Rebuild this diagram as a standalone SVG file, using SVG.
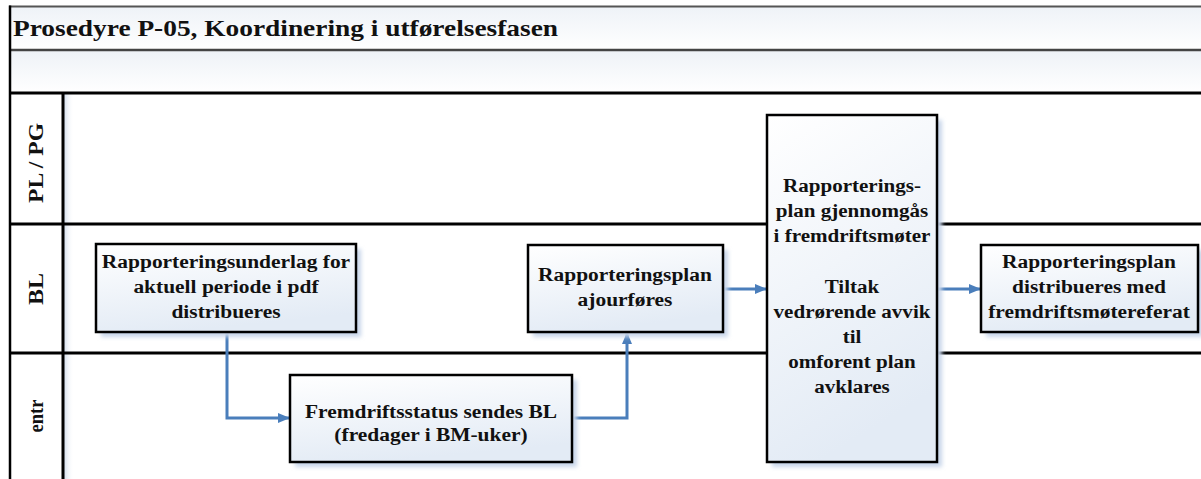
<svg xmlns="http://www.w3.org/2000/svg" width="1201" height="479" viewBox="0 0 1201 479">
  <style>
    .title { font-family: "Liberation Serif", "Times New Roman", serif; font-weight: bold; font-size: 24px; fill: #111; }
    .lane { font-family: "Liberation Serif", "Times New Roman", serif; font-weight: bold; font-size: 21px; fill: #111; text-anchor: middle; }
    .lbl { font-family: "Liberation Serif", "Times New Roman", serif; font-weight: bold; font-size: 19.5px; fill: #111; text-anchor: middle; }
    .box { fill: url(#boxFill); stroke: #000; stroke-width: 2.5; }
    .shadow { fill: #c8d6ea; filter: url(#soft); }
    .sep { stroke: #000; stroke-width: 3; fill: none; }
    .flow { stroke: #4a7ebb; stroke-width: 3; fill: none; marker-end: url(#arrow); }
  </style>
  <defs>
    <linearGradient id="boxFill" x1="0" y1="0" x2="0.3" y2="1">
      <stop offset="0" stop-color="#ffffff"/>
      <stop offset="1" stop-color="#e3ebf5"/>
    </linearGradient>
    <linearGradient id="band" x1="0" y1="0" x2="0" y2="1">
      <stop offset="0" stop-color="#eef2f7"/>
      <stop offset="1" stop-color="#ffffff"/>
    </linearGradient>
    <linearGradient id="laneEdge" x1="0" y1="0" x2="1" y2="0">
      <stop offset="0" stop-color="#d3deed"/>
      <stop offset="1" stop-color="#ffffff" stop-opacity="0"/>
    </linearGradient>
    <filter id="soft" x="-10%" y="-10%" width="120%" height="120%">
      <feGaussianBlur stdDeviation="2"/>
    </filter>
    <marker id="arrow" markerWidth="12" markerHeight="10" refX="11" refY="5" orient="auto" markerUnits="userSpaceOnUse">
      <path d="M0,0 L12,5 L0,10 Z" fill="#4a7ebb"/>
    </marker>
  </defs>

  <rect width="1201" height="479" fill="#ffffff"/>

  <!-- pool frame and header bands -->
  <g id="pool">
    <rect x="10" y="6" width="1195" height="44" fill="url(#band)"/>
    <rect x="10" y="50" width="1195" height="43" fill="url(#band)"/>
    <rect x="64" y="93" width="10" height="390" fill="url(#laneEdge)"/>
    <line x1="9" y1="6.5" x2="1205" y2="6.5" stroke="#555" stroke-width="2"/>
    <line x1="9" y1="50" x2="1205" y2="50" stroke="#444" stroke-width="2.5"/>
    <line x1="9" y1="93" x2="1205" y2="93" class="sep"/>
    <line x1="9" y1="224" x2="1205" y2="224" class="sep"/>
    <line x1="9" y1="353" x2="1205" y2="353" class="sep"/>
    <line x1="10" y1="5.5" x2="10" y2="485" stroke="#000" stroke-width="2.5"/>
    <line x1="63" y1="93" x2="63" y2="485" class="sep"/>
    <text class="title" x="13" y="36" textLength="545" lengthAdjust="spacingAndGlyphs">Prosedyre P-05, Koordinering i utførelsesfasen</text>
  </g>

  <!-- lane headers -->
  <g id="lane-plpg"><text class="lane" transform="translate(43,163) rotate(-90)" textLength="80" lengthAdjust="spacingAndGlyphs">PL / PG</text></g>
  <g id="lane-bl"><text class="lane" transform="translate(43,289) rotate(-90)" textLength="32" lengthAdjust="spacingAndGlyphs">BL</text></g>
  <g id="lane-entr"><text class="lane" transform="translate(43,416) rotate(-90)" textLength="33" lengthAdjust="spacingAndGlyphs">entr</text></g>

  <!-- connectors -->
  <g id="connectors">
    <path class="flow" d="M227,332 V418 H289"/>
    <path class="flow" d="M572,418 H627 V333"/>
    <path class="flow" d="M723,289 H766"/>
    <path class="flow" d="M937,289 H980"/>
  </g>

  <!-- process steps -->
  <g id="n1">
    <rect class="shadow" x="101" y="249" width="260" height="88"/>
    <rect class="box" x="96" y="244" width="260" height="88"/>
    <g transform="translate(226,0) scale(1.1,1)">
      <text class="lbl" x="0" y="268">Rapporteringsunderlag for</text>
      <text class="lbl" x="0" y="293">aktuell periode i pdf</text>
      <text class="lbl" x="0" y="318">distribueres</text>
    </g>
  </g>

  <g id="n2">
    <rect class="shadow" x="295" y="380" width="282" height="87"/>
    <rect class="box" x="290" y="375" width="282" height="87"/>
    <g transform="translate(431,0) scale(1.1,1)">
      <text class="lbl" x="0" y="418">Fremdriftsstatus sendes BL</text>
      <text class="lbl" x="0" y="441">(fredager i BM-uker)</text>
    </g>
  </g>

  <g id="n3">
    <rect class="shadow" x="533" y="250" width="195" height="87"/>
    <rect class="box" x="528" y="245" width="195" height="87"/>
    <g transform="translate(625,0) scale(1.1,1)">
      <text class="lbl" x="0" y="281">Rapporteringsplan</text>
      <text class="lbl" x="0" y="306">ajourføres</text>
    </g>
  </g>

  <g id="n4">
    <rect class="shadow" x="772" y="120" width="170" height="347"/>
    <rect class="box" x="767" y="115" width="170" height="347"/>
    <g transform="translate(852,0) scale(1.08,1)">
      <text class="lbl" x="0" y="192">Rapporterings-</text>
      <text class="lbl" x="0" y="217">plan gjennomgås</text>
      <text class="lbl" x="0" y="242">i fremdriftsmøter</text>
      <text class="lbl" x="0" y="293">Tiltak</text>
      <text class="lbl" x="0" y="318">vedrørende avvik</text>
      <text class="lbl" x="0" y="343">til</text>
      <text class="lbl" x="0" y="368">omforent plan</text>
      <text class="lbl" x="0" y="393">avklares</text>
    </g>
  </g>

  <g id="n5">
    <rect class="shadow" x="986" y="250" width="217" height="87"/>
    <rect class="box" x="981" y="245" width="217" height="87"/>
    <g transform="translate(1089,0) scale(1.1,1)">
      <text class="lbl" x="0" y="268">Rapporteringsplan</text>
      <text class="lbl" x="0" y="293">distribueres med</text>
      <text class="lbl" x="0" y="318">fremdriftsmøtereferat</text>
    </g>
  </g>
</svg>
